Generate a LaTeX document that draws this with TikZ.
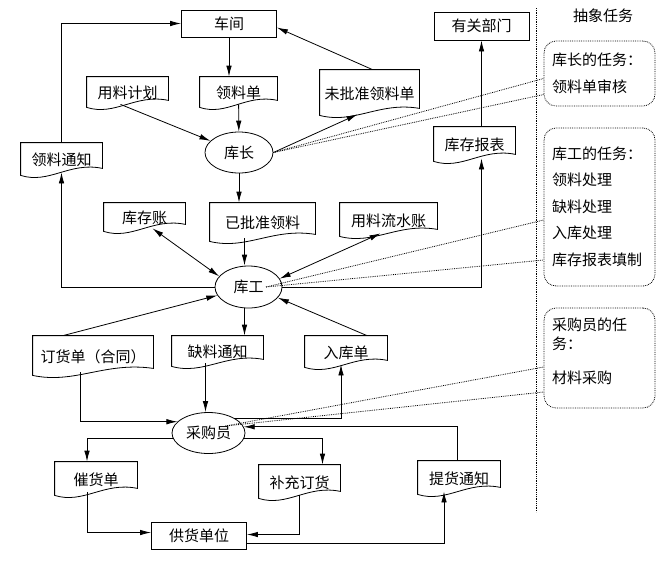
\documentclass[tikz,border=0pt]{standalone}
\usepackage{amsmath}
\usepackage{fontspec}
\setmainfont{Noto Sans CJK SC}
\usepackage{tikz}
\usetikzlibrary{arrows.meta,shapes.geometric,calc}

\begin{document}
\begin{tikzpicture}[x=1pt,y=-1pt,line width=0.8pt,>={Latex[length=11pt,width=5.5pt]},
    every node/.style={font=\fontsize{15pt}{20pt}\selectfont,inner sep=0pt},
    rectbox/.style={draw,minimum width=95pt,minimum height=27pt},
    docbox/.style={text height=18pt,text depth=2pt},
    ellbox/.style={draw,ellipse,minimum width=68pt,minimum height=41pt},
    taskbox/.style={draw,densely dotted,rounded corners=12pt,minimum width=111pt,
      text width=95pt,inner xsep=8pt,align=left},
    dotline/.style={densely dotted,line width=0.8pt}]
    \useasboundingbox (0,0) rectangle (671,563);

    % boxes
    \node[rectbox] (cj) at (229,23.5) {车间};
    \node[rectbox,minimum height=28pt] (ygbm) at (481.5,26) {有关部门};
    \node[rectbox] (ghdw) at (199,535.5) {供货单位};

    % documents
    \node[docbox,minimum width=81pt,minimum height=27pt] (yljh) at (127.5,90.5) {用料计划};
    \node[docbox,minimum width=77pt,minimum height=27pt] (lld) at (238.5,90.5) {领料单};
    \node[docbox,minimum width=99pt,minimum height=42pt] (wpz) at (369.5,91) {未批准领料单};
    \node[docbox,minimum width=81pt,minimum height=29pt] (lltz) at (61.5,157.5) {领料通知};
    \node[docbox,minimum width=81pt,minimum height=31pt] (kcbb) at (474.5,142.5) {库存报表};
    \node[docbox,minimum width=81pt,minimum height=25pt] (kcz) at (144.5,215.5) {库存账};
    \node[docbox,minimum width=105pt,minimum height=35pt] (ypz) at (262.5,220.5) {已批准领料};
    \node[docbox,minimum width=97pt,minimum height=30pt] (yllsz) at (388.5,218) {用料流水账};
    \node[docbox,minimum width=120pt,minimum height=36pt] (dhd) at (93,354) {订货单（合同）};
    \node[docbox,minimum width=91pt,minimum height=27pt] (qltz) at (217.5,349.5) {缺料通知};
    \node[docbox,minimum width=82pt,minimum height=28pt] (rkd) at (346,350) {入库单};
    \node[docbox,minimum width=82pt,minimum height=30pt] (chd) at (96,477) {催货单};
    \node[docbox,minimum width=81pt,minimum height=30pt] (bcdh) at (299.5,480) {补充订货};
    \node[docbox,minimum width=82pt,minimum height=30pt] (thtz) at (459,476) {提货通知};
    \foreach \n in {yljh,lld,wpz,lltz,kcbb,kcz,ypz,yllsz,dhd,qltz,rkd,chd,bcdh,thtz}
      \draw (\n.north west) -- ([yshift=-3pt]\n.south west)
        .. controls ($(\n.south west)!0.35!(\n.south east)+(0pt,-12pt)$)
        and ($(\n.south west)!0.6!(\n.south east)+(0pt,11pt)$) .. ([yshift=4pt]\n.south east)
        -- (\n.north east) -- cycle;

    % roles
    \node[ellbox] (kz) at (239,152.5) {库长};
    \node[ellbox,minimum width=67pt,minimum height=42pt] (kg) at (248.5,287) {库工};
    \node[ellbox,minimum width=73pt] (cgy) at (208.5,433) {采购员};

    % tasks
    \node (cxrw) at (603,16) {抽象任务};
    \coordinate (fg1) at (536,8);
    \coordinate (fg2) at (536,512);
    \draw[dotline] (fg1) -- (fg2);
    \node[taskbox,minimum height=65pt] (kzrw) at (599.5,73.5) {库长的任务：\\[7pt]领料单审核};
    \node[taskbox,minimum height=158pt] (kgrw) at (599.5,207)
      {库工的任务：\\[6pt]领料处理\\[7pt]缺料处理\\[6pt]入库处理\\[7pt]库存报表填制};
    \node[taskbox,minimum height=100pt] (cgyrw) at (599.5,358)
      {采购员的任\\[-1pt]务：\\[14pt]材料采购\\[-6pt]\mbox{}};

    % 库长
    \draw[->] (cj) -- (cj |- lld.north);
    \draw[->] (lld) -- (kz);
    \draw[->] ([xshift=-7pt]yljh.south) -- (kz);
    \draw[->] ([xshift=3pt]wpz.north) -- ([yshift=-4pt]cj.east);
    \draw[->] (kz.east) -- ([xshift=-12pt,yshift=-2pt]wpz.south);
    \draw[->] (kz) -- (kz |- ypz.north);
    \draw[->] (lltz) |- (cj);

    % 库工
    \draw[->] ([xshift=-18pt]ypz.south) -- ([xshift=-18pt]ypz.south |- kg.north);
    \draw[<->] ([xshift=8pt]kcz.south) -- (kg.160);
    \draw[<->] (kg.15) -- ([xshift=-8pt]yllsz.south);
    \draw[->] (kg.west) -| (lltz);
    \draw[->] (kg.east) -| (ygbm.south |- kcbb.south);
    \draw[->] (ygbm.south |- kcbb.north) -- (ygbm.south);
    \draw[->] ([xshift=-30pt]dhd.north) -- (kg.195);
    \draw[->] ([xshift=-4pt]kg.south) -- ([xshift=-4pt]kg.south |- qltz.north);
    \draw[->] ([xshift=21pt]rkd.north) -- (kg.340);

    % 采购员
    \draw[->] ([xshift=-12pt]qltz.south) -- ([xshift=-12pt]qltz.south |- cgy.north);
    \draw[->] ([xshift=-13pt]dhd.south) |- (cgy.160);
    \draw[->] (cgy.30) -| ([xshift=-5pt]rkd.south);
    \draw[->] ([xshift=-2pt]thtz.north) |- (cgy.10);
    \draw[->] (cgy.352) -| ([xshift=23pt]bcdh.north);
    \draw[->] (cgy.188) -| ([xshift=-9pt]chd.north);
    \draw[->] ([xshift=-9pt]chd.south) |- ([yshift=3pt]ghdw.west);
    \draw[->] (bcdh.south) |- ([yshift=1pt]ghdw.east);
    \draw[->] ([yshift=-8pt]ghdw.east) -| ([xshift=-15pt]thtz.south);

    % task links
    \draw[dotline] (kz.east) -- ([yshift=-5pt]kzrw.west);
    \draw[dotline] (kz.east) -- ([yshift=-21pt]kzrw.west);
    \draw[dotline] ([xshift=17.5pt]kg.center) -- ([yshift=-13pt]kgrw.west);
    \draw[dotline] ([xshift=17.5pt]kg.center) -- ([yshift=-53pt]kgrw.west);
    \draw[dotline] ([xshift=17pt,yshift=7pt]cgy.center) -- ([yshift=-9pt]cgyrw.west);
    \draw[dotline] ([xshift=17pt,yshift=7pt]cgy.center) -- ([yshift=-34pt]cgyrw.west);
  \end{tikzpicture}
\end{document}
